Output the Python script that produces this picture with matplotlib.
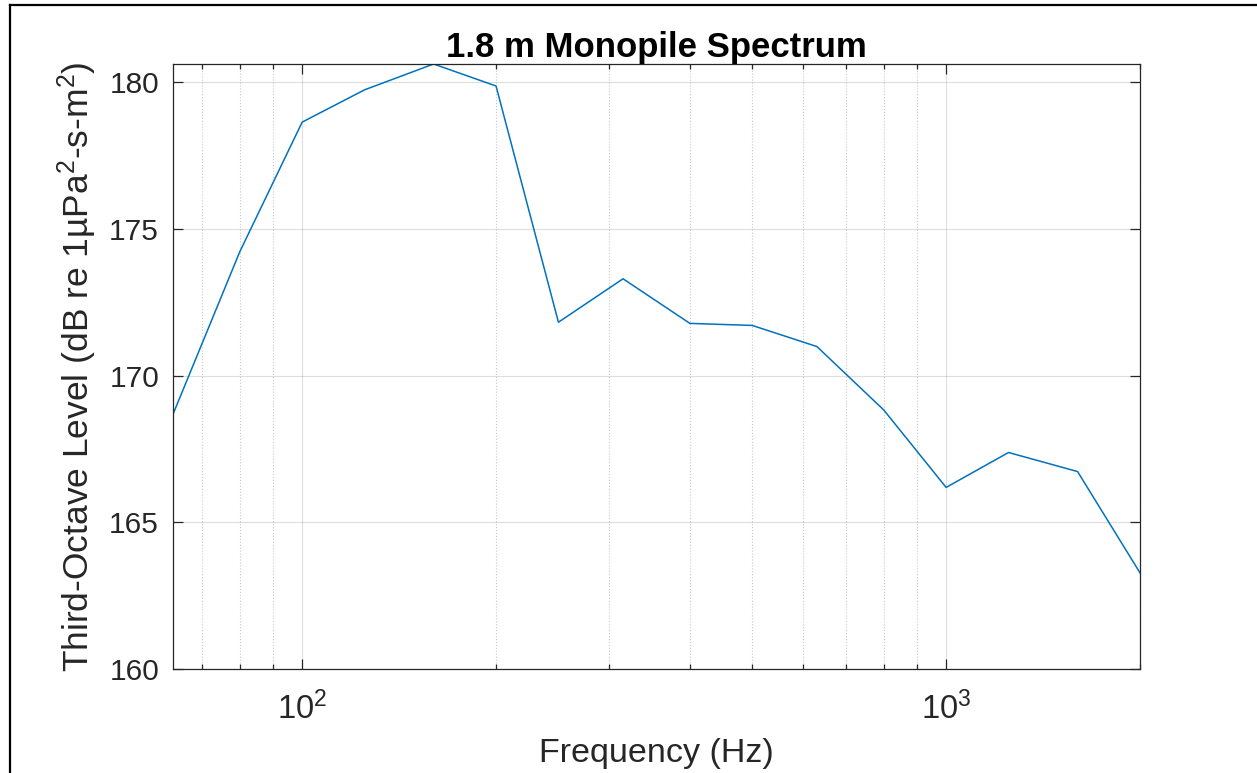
import matplotlib
matplotlib.use("Agg")
import matplotlib.pyplot as plt
from matplotlib.lines import Line2D
from matplotlib.ticker import LogLocator, NullFormatter

# ========================================================
# DATA

# third-octave band centre frequencies (Hz)
FREQ = [63, 80, 100, 125, 160, 200, 250, 315, 400, 500, 630, 800, 1000, 1250, 1600, 2000]
# band levels (dB re 1 uPa^2-s-m^2)
LEVEL = [168.68, 174.22, 178.64, 179.74, 180.62, 179.87, 171.82, 173.30,
         171.78, 171.71, 170.99, 168.83, 166.19, 167.38, 166.73, 163.28]

TITLE = "1.8 m Monopile Spectrum"
XLABEL = "Frequency (Hz)"
YLABEL = r"Third-Octave Level (dB re 1µPa$^2$-s-m$^2$)"

DARK = "#262626"
BLUE = "#0072BD"

# ========================================================
# STYLE

plt.rcParams["font.family"] = ["Liberation Sans", "DejaVu Sans"]
plt.rcParams["mathtext.fontset"] = "custom"
plt.rcParams["mathtext.rm"] = "Liberation Sans"
plt.rcParams["mathtext.it"] = "Liberation Sans:italic"
plt.rcParams["mathtext.bf"] = "Liberation Sans:bold"

fig = plt.figure(figsize=(12.57, 7.73), dpi=100)
ax = fig.add_axes([0.1376, 0.1345, 0.7693, 0.7827])

ax.plot(FREQ, LEVEL, color=BLUE, lw=1.1)

ax.set_xscale("log")
ax.set_xlim(FREQ[0], FREQ[-1])
ax.set_ylim(160, max(LEVEL))
ax.set_yticks([160, 165, 170, 175, 180])
ax.xaxis.set_minor_locator(LogLocator(base=10, subs=range(2, 10)))
ax.xaxis.set_minor_formatter(NullFormatter())

ax.grid(True, which="major", color=DARK, alpha=0.15, lw=0.8)
ax.grid(True, which="minor", axis="x", color=DARK, alpha=0.25, lw=0.8, linestyle=":")
ax.set_axisbelow(True)

for s in ax.spines.values():
    s.set_color(DARK)
    s.set_linewidth(0.9)

ax.tick_params(which="both", direction="in", top=True, right=True,
               colors=DARK, labelsize=21.5, width=0.9)
ax.tick_params(which="major", length=7.2)
ax.tick_params(which="minor", length=3.6)
ax.tick_params(axis="x", which="major", pad=16, labelsize=23.5)
ax.tick_params(axis="y", which="major", pad=10)

ax.set_title(TITLE, fontsize=25, fontweight="bold", color="black", pad=5)
ax.set_xlabel(XLABEL, fontsize=24.5, color=DARK, labelpad=9)
ax.set_ylabel(YLABEL, fontsize=25.5, color=DARK, labelpad=7)

# border lines along the left and top of the figure
fig.add_artist(Line2D([10 / 1257, 10 / 1257], [0, 1 - 5 / 773], color="black", lw=1.6))
fig.add_artist(Line2D([10 / 1257, 1], [1 - 5 / 773, 1 - 5 / 773], color="black", lw=1.6))

fig.savefig("out.png", dpi=100)
